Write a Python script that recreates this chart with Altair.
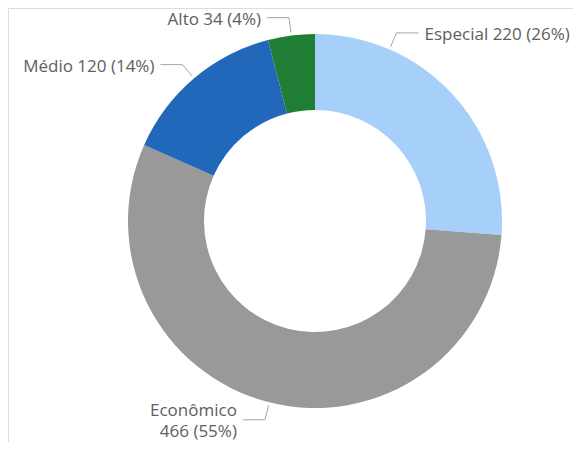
import altair as alt
import pandas as pd

# ---- data ----
categories = ["Especial", "Econômico", "Médio", "Alto"]
values = [220, 466, 120, 34]
order_idx = [0, 1, 2, 3]
colors = ["#A6D0FA", "#999999", "#2268BA", "#217F35"]

# ---- layout (not data) ----
W, H = 565, 434
CX, CY = 307, 213
R_OUT, R_IN = 187, 111
R_ANCHOR, R_ELBOW = 190, 205
HSEG, GAP = 22, 6
label_nudge_deg = {"Especial": -23.7}
FONT = "Open Sans"
FONT_SIZE = 17
TEXT_COLOR = "#605E5C"
LINE_COLOR = "#A6A6A6"

df = pd.DataFrame({
    "cat": categories,
    "value": values,
    "idx": order_idx,
    "nudge": [label_nudge_deg.get(c, 0.0) for c in categories],
})

base = alt.Chart(df)

color_scale = alt.Scale(domain=categories, range=colors)

arcs = base.mark_arc(outerRadius=R_OUT, innerRadius=R_IN).encode(
    theta=alt.Theta("value:Q", stack=True),
    color=alt.Color("cat:N", scale=color_scale, legend=None, sort=categories),
    order=alt.Order("idx:Q"),
    x=alt.value(CX),
    y=alt.value(CY),
)

geo = base.transform_joinaggregate(
    total="sum(value)"
).transform_window(
    cum="sum(value)", sort=[alt.SortField("idx")], frame=[None, 0]
).transform_calculate(
    mid="2*PI*(datum.cum - datum.value/2)/datum.total + datum.nudge*PI/180"
).transform_calculate(
    ax=f"{CX} + {R_ANCHOR}*sin(datum.mid)",
    ay=f"{CY} - {R_ANCHOR}*cos(datum.mid)",
    ex=f"{CX} + {R_ELBOW}*sin(datum.mid)",
    ey=f"{CY} - {R_ELBOW}*cos(datum.mid)",
    side="sin(datum.mid) >= 0 ? 1 : -1",
    wrap="cos(datum.mid) < -0.9 ? 1 : 0",
    pct="round(100*datum.value/datum.total)",
).transform_calculate(
    hx=f"datum.ex + datum.side*{HSEG}",
    tx=f"datum.ex + datum.side*{HSEG + GAP}",
    ty="datum.ey + 2.5 - datum.wrap*11.7",
    label="datum.cat + (datum.wrap ? '\\n' : ' ') + datum.value + ' (' + datum.pct + '%)'",
)

px = dict(scale=None, axis=None)

lead1 = geo.mark_rule(color=LINE_COLOR, strokeWidth=1).encode(
    x=alt.X("ax:Q", **px), y=alt.Y("ay:Q", **px),
    x2="ex:Q", y2="ey:Q",
)
lead2 = geo.mark_rule(color=LINE_COLOR, strokeWidth=1).encode(
    x=alt.X("ex:Q", **px), y=alt.Y("ey:Q", **px),
    x2="hx:Q", y2="ey:Q",
)

text_style = dict(baseline="middle", font=FONT, fontSize=FONT_SIZE,
                  color=TEXT_COLOR, lineBreak="\n", lineHeight=21)

text_r = geo.transform_filter("datum.side > 0").mark_text(
    align="left", **text_style
).encode(x=alt.X("tx:Q", **px), y=alt.Y("ty:Q", **px), text="label:N")

text_l = geo.transform_filter("datum.side < 0").mark_text(
    align="right", **text_style
).encode(x=alt.X("tx:Q", **px), y=alt.Y("ty:Q", **px), text="label:N")

chart = alt.layer(arcs, lead1, lead2, text_r, text_l).properties(
    width=W, height=H, autosize=alt.AutoSizeParams(type="none"), padding=0,
).configure_view(stroke=None).configure(background="white")

chart.save("out.html", embed_options={"renderer": "svg", "actions": False})
